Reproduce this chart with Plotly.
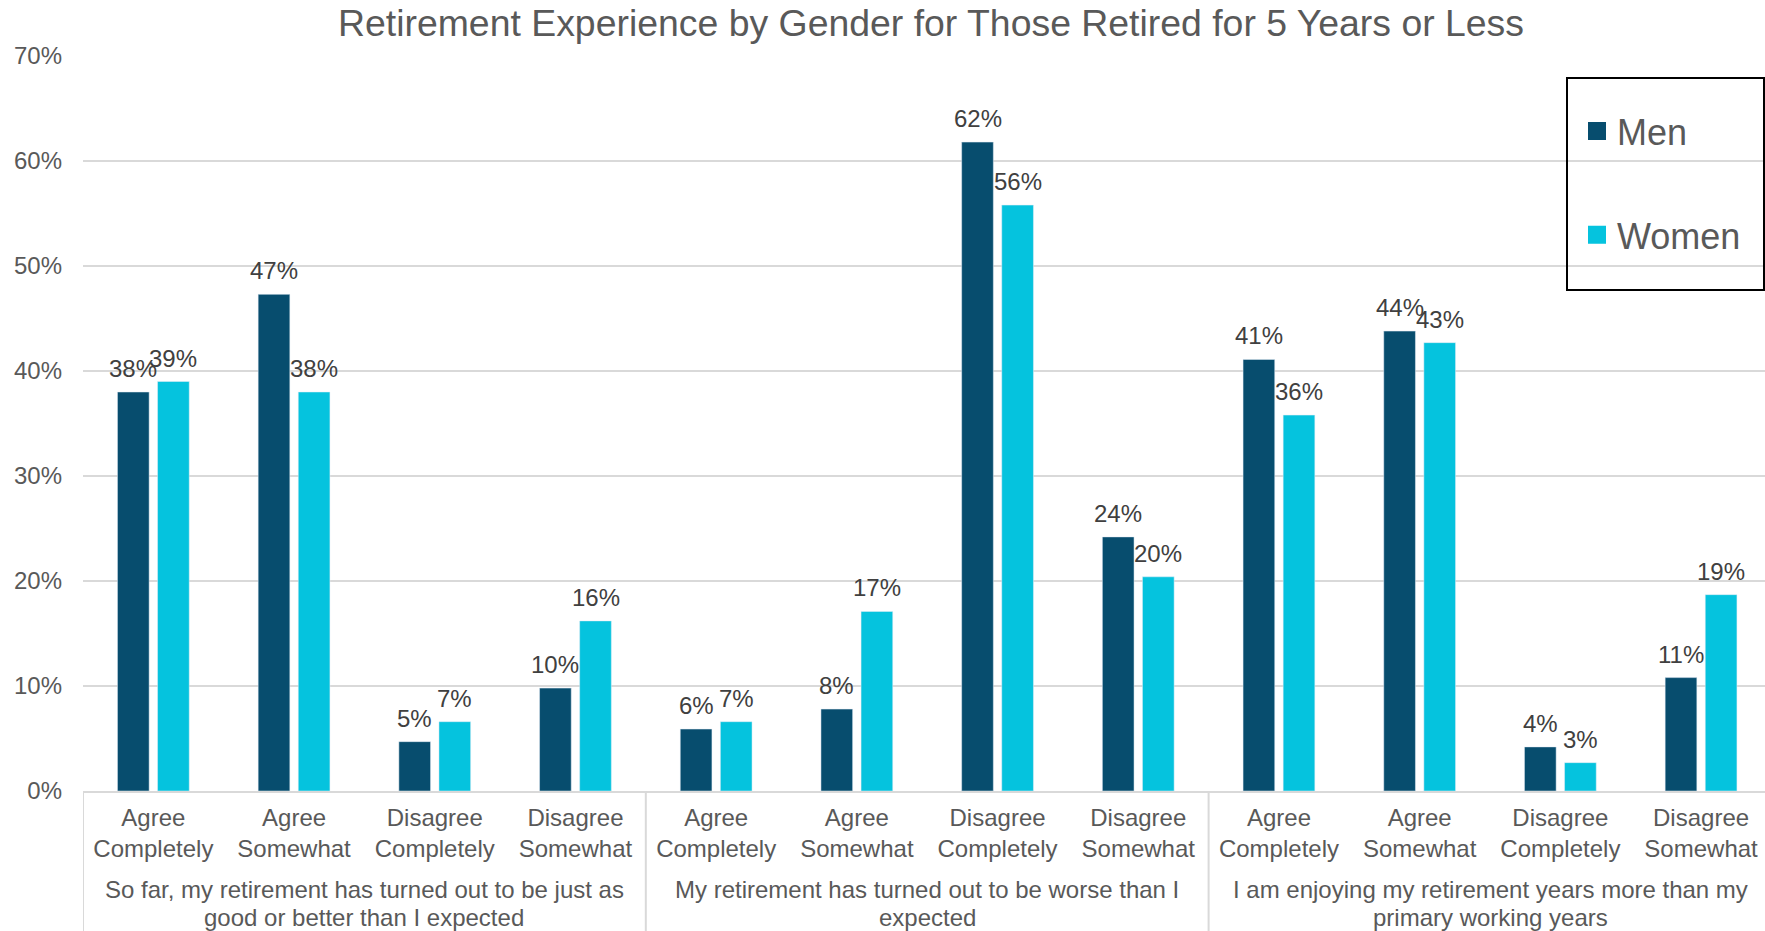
import plotly.graph_objects as go

# ---- data -------------------------------------------------------------
responses = [
    "Agree<br>Completely", "Agree<br>Somewhat", "Disagree<br>Completely", "Disagree<br>Somewhat",
    "Agree<br>Completely", "Agree<br>Somewhat", "Disagree<br>Completely", "Disagree<br>Somewhat",
    "Agree<br>Completely", "Agree<br>Somewhat", "Disagree<br>Completely", "Disagree<br>Somewhat",
]
statements = [
    ["So far, my retirement has turned out to be just as", "good or better than I expected"],
    ["My retirement has turned out to be worse than I", "expected"],
    ["I am enjoying my retirement years more than my", "primary working years"],
]
men = [38.0, 47.3, 4.7, 9.8, 5.9, 7.8, 61.8, 24.2, 41.1, 43.8, 4.2, 10.8]
women = [39.0, 38.0, 6.6, 16.2, 6.6, 17.1, 55.8, 20.4, 35.8, 42.7, 2.7, 18.7]
y_ticks = [0, 10, 20, 30, 40, 50, 60, 70]
y_tick_labels = ["0%", "10%", "20%", "30%", "40%", "50%", "60%", "70%"]

# ---- styling ----------------------------------------------------------
W, H = 1765, 931
M_L, M_R, M_T, M_B = 83, 0, 56, 140
FONT = "Liberation Sans, Arial, sans-serif"
MEN_COLOR = "#074D6E"
WOMEN_COLOR = "#05C3DE"
GRID = "#d9d9d9"
TEXT = "#595959"
LABEL = "#404040"
BARGAP = 0.43
BARGROUPGAP = 0.21

positions = list(range(len(responses)))
plot_w = W - M_L - M_R
plot_h = H - M_T - M_B
cat_px = 140.7  # width of one category in pixels
x_max = -0.5 + plot_w / cat_px

fig = go.Figure()
for name, vals, color, grp in (("Men", men, MEN_COLOR, "men"),
                               ("Women", women, WOMEN_COLOR, "women")):
    fig.add_trace(go.Bar(x=positions, y=vals, name=name, marker_color=color,
                         legendgroup=grp, showlegend=False, hoverinfo="skip"))
    # legend key: a larger square swatch than the default bar icon
    fig.add_trace(go.Scatter(x=[None], y=[None], name=name, mode="markers",
                             legendgroup=grp, showlegend=True, hoverinfo="skip",
                             marker=dict(symbol="square", size=16, color=color,
                                         line=dict(color=color, width=2))))

# value labels above each bar
slot = (1 - BARGAP) / 2
annotations = []
for series, shift in ((men, -slot / 2), (women, slot / 2)):
    for pos, v in zip(positions, series):
        annotations.append(dict(
            x=pos + shift, y=v, xref="x", yref="y", text=f"{v:.0f}%",
            showarrow=False, yanchor="bottom", xanchor="center", yshift=8,
            font=dict(family=FONT, size=24, color=LABEL),
        ))

# statement labels under each block of four responses (one line each)
line_offsets = [-98, -126]
for g, lines in enumerate(statements):
    for line, off in zip(lines, line_offsets):
        annotations.append(dict(
            x=4 * g + 1.5, y=0, xref="x", yref="paper", text=line,
            showarrow=False, yanchor="middle", xanchor="center", yshift=off,
            font=dict(family=FONT, size=24, color=TEXT),
        ))

shapes = []
# dividers between statement blocks
for b in (-0.5, 3.5, 7.5):
    shapes.append(dict(type="line", xref="x", yref="paper", x0=b, x1=b,
                       y0=0, y1=-M_B / plot_h, line=dict(color=GRID, width=2)))
# legend frame
shapes.append(dict(type="rect", xref="paper", yref="paper",
                   x0=(1567 - M_L) / plot_w, x1=(1764 - M_L) / plot_w,
                   y0=(H - M_B - 290) / plot_h, y1=(H - M_B - 78) / plot_h,
                   line=dict(color="black", width=2), fillcolor="rgba(0,0,0,0)"))

fig.update_layout(
    width=W, height=H,
    margin=dict(l=M_L, r=M_R, t=M_T, b=M_B, pad=0),
    paper_bgcolor="white", plot_bgcolor="white",
    barmode="group", bargap=BARGAP, bargroupgap=BARGROUPGAP,
    font=dict(family=FONT, color=TEXT),
    title=dict(
        text="Retirement Experience by Gender for Those Retired for 5 Years or Less",
        x=(931 - M_L) / plot_w, xref="paper", xanchor="center",
        y=1 - 22.5 / H, yref="container", yanchor="middle",
        font=dict(family=FONT, size=37.4, color=TEXT),
    ),
    xaxis=dict(
        range=[-0.5, x_max], tickvals=positions, ticktext=responses,
        tickfont=dict(family=FONT, size=24, color=TEXT),
        showgrid=False, zeroline=False, showline=True, linecolor=GRID, linewidth=2,
        ticks="", ticklabelstandoff=4, fixedrange=True,
    ),
    yaxis=dict(
        range=[0, 70], tickvals=y_ticks, ticktext=y_tick_labels,
        tickfont=dict(family=FONT, size=24, color=TEXT),
        showgrid=True, gridcolor=GRID, gridwidth=1.5, zeroline=False, showline=False,
        ticks="", ticklabelstandoff=20, fixedrange=True,
    ),
    legend=dict(
        x=(1577 - M_L) / plot_w, y=(H - M_B - 101) / plot_h, xanchor="left", yanchor="top",
        font=dict(family=FONT, size=36, color=TEXT), bgcolor="rgba(0,0,0,0)",
        borderwidth=0, tracegroupgap=54, traceorder="grouped",
    ),
    annotations=annotations,
    shapes=shapes,
)

fig.write_html("out.html")
